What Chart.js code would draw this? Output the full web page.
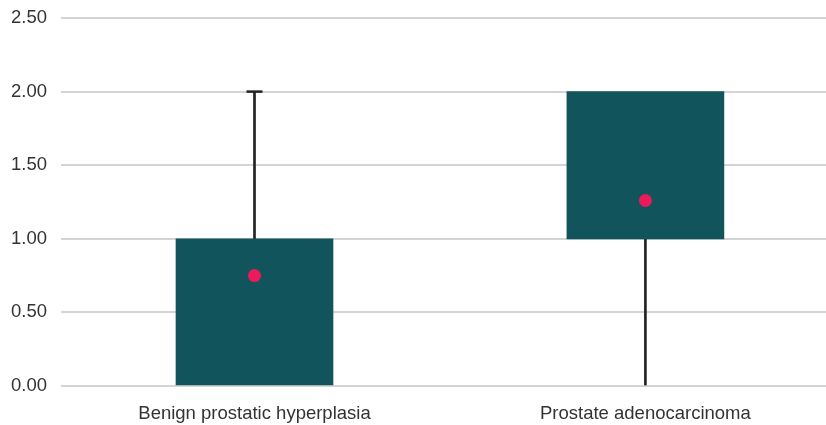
<!DOCTYPE html>
<html>
<head>
<meta charset="utf-8">
<script src="https://cdn.jsdelivr.net/npm/chart.js@4.4.1/dist/chart.umd.min.js"></script>
<style>
  html, body { margin: 0; padding: 0; background: #fff; }
  #wrap { width: 826px; height: 425px; }
</style>
</head>
<body>
<div id="wrap"><canvas id="chart"></canvas></div>
<script>
// Values
const categories = ['Benign prostatic hyperplasia', 'Prostate adenocarcinoma'];
const boxLow = [0.0, 1.0];
const boxHigh = [1.0, 2.0];
const whiskerLow = [1.0, 0.0];
const whiskerHigh = [2.0, 1.0];
const capValues = [2.0, null];
const means = [0.75, 1.26];
const yTicks = [0, 0.5, 1, 1.5, 2, 2.5];

const fontSpec = { family: 'Liberation Sans, Arial, Helvetica, sans-serif', size: 18.5 };

const chart = new Chart(document.getElementById('chart'), {
  type: 'bar',
  data: {
    datasets: [
      {
        label: 'Mean',
        type: 'scatter',
        data: means.map((v, i) => ({ x: i, y: v })),
        backgroundColor: '#ec1a5b',
        borderWidth: 0,
        pointRadius: 6.5,
        order: 0,
      },
      {
        label: 'Cap',
        type: 'scatter',
        data: capValues.map((v, i) => ({ x: i, y: v })),
        pointStyle: 'line',
        pointRadius: 8,
        borderColor: '#222',
        borderWidth: 2.5,
        order: 1,
      },
      {
        label: 'Box',
        data: boxLow.map((v, i) => ({ x: i, y: [v, boxHigh[i]] })),
        backgroundColor: '#12545b',
        barThickness: 157,
        grouped: false,
        order: 2,
      },
      {
        label: 'Whisker',
        data: whiskerLow.map((v, i) => ({ x: i, y: [v, whiskerHigh[i]] })),
        backgroundColor: '#222',
        barThickness: 2,
        grouped: false,
        order: 3,
      },
    ],
  },
  options: {
    responsive: true,
    maintainAspectRatio: false,
    animation: false,
    layout: { autoPadding: false, padding: { top: 18, left: 0, right: 0, bottom: 0 } },
    plugins: { legend: { display: false }, tooltip: { enabled: false } },
    scales: {
      x: {
        type: 'linear',
        offset: false,
        min: -0.495,
        max: 1.462,
        grid: { display: false, drawTicks: false },
        border: { display: false },
        afterBuildTicks: (scale) => { scale.ticks = categories.map((c, i) => ({ value: i })); },
        afterFit: (scale) => { scale.height = 39; scale.paddingRight = 0; scale.paddingLeft = 0; },
        ticks: {
          padding: 17,
          color: '#333',
          font: fontSpec,
          callback: (value) => categories[value],
        },
      },
      y: {
        min: 0,
        max: 2.5,
        grid: { color: '#d4d4d4', lineWidth: 2, drawTicks: false },
        border: { display: false },
        afterBuildTicks: (scale) => { scale.ticks = yTicks.map((v) => ({ value: v })); },
        afterFit: (scale) => { scale.width = 61; scale.paddingTop = 0; scale.paddingBottom = 0; },
        ticks: {
          padding: 14,
          color: '#333',
          font: fontSpec,
          callback: (value) => value.toFixed(2),
        },
      },
    },
  },
});
</script>
</body>
</html>
